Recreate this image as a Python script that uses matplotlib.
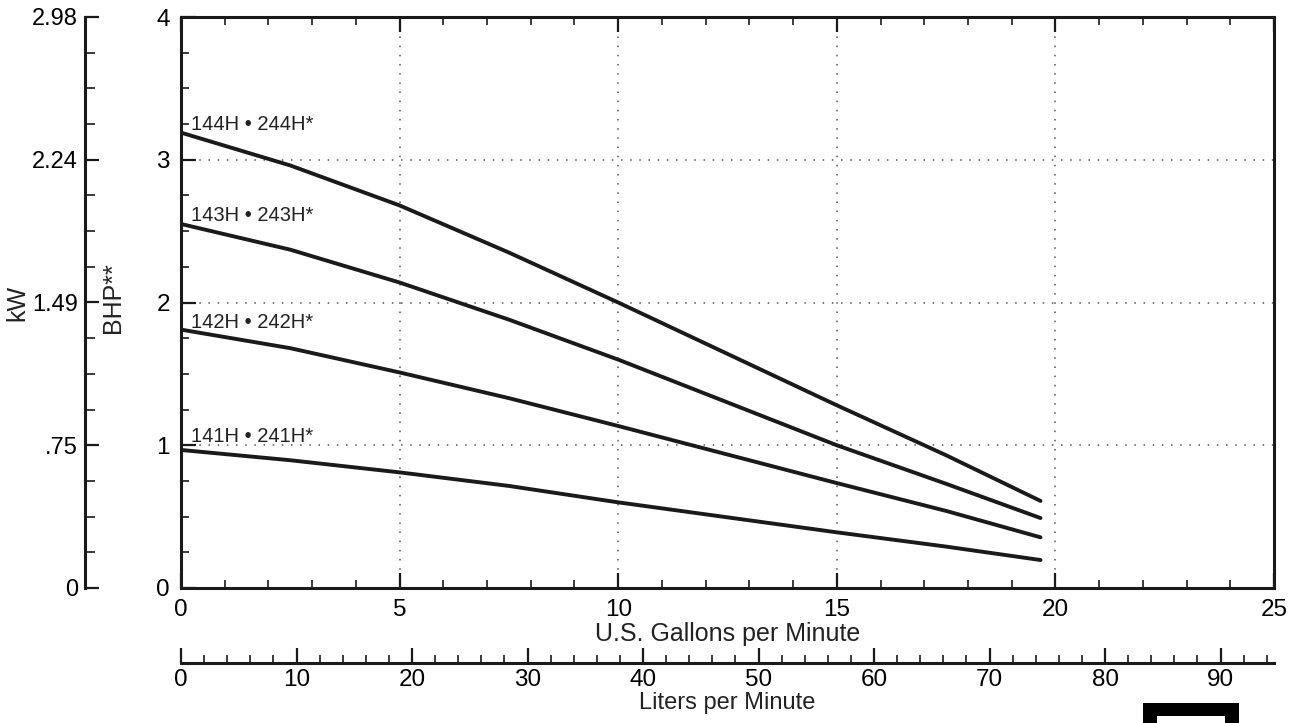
import matplotlib
matplotlib.use('Agg')
import matplotlib.pyplot as plt
from matplotlib.patches import Rectangle
from matplotlib.ticker import MultipleLocator, FixedLocator

plt.rcParams['font.family'] = ['Liberation Sans', 'DejaVu Sans']

# BHP curves (x = US gallons per minute)
gpm = [0, 2.5, 5, 7.5, 10, 12.5, 15, 17.5, 19.66]
bhp_144 = [3.19, 2.96, 2.68, 2.35, 2.00, 1.64, 1.28, 0.93, 0.61]
bhp_143 = [2.55, 2.37, 2.14, 1.88, 1.60, 1.30, 1.00, 0.73, 0.49]
bhp_142 = [1.81, 1.68, 1.51, 1.33, 1.135, 0.935, 0.735, 0.54, 0.355]
bhp_141 = [0.967, 0.895, 0.81, 0.715, 0.60, 0.495, 0.39, 0.29, 0.196]

curve_labels = ['144H \u2022 244H*', '143H \u2022 243H*', '142H \u2022 242H*', '141H \u2022 241H*']
label_y = [3.25, 2.61, 1.86, 1.06]

gpm_ticks = [0, 5, 10, 15, 20, 25]
bhp_ticks = [0, 1, 2, 3, 4]
kw_labels = ['0', '.75', '1.49', '2.24', '2.98']
lpm_ticks = [0, 10, 20, 30, 40, 50, 60, 70, 80, 90]

GAL_TO_L = 3.785

W, H = 1294, 723
fig = plt.figure(figsize=(W / 100, H / 100), dpi=100)

left, right, top, bottom = 181, 1274, 17, 588
ax = fig.add_axes([left / W, 1 - bottom / H, (right - left) / W, (bottom - top) / H])

for b in [bhp_144, bhp_143, bhp_142, bhp_141]:
    ax.plot(gpm, b, color='#1a1a1a', lw=2.8, solid_capstyle='round',
            solid_joinstyle='round', zorder=3)

for txt, yy in zip(curve_labels, label_y):
    ax.text(0.23, yy, txt, fontsize=14.5, va='center', ha='left', color='#222222')

ax.set_xlim(0, 25)
ax.set_ylim(0, 4)
ax.xaxis.set_major_locator(FixedLocator(gpm_ticks))
ax.xaxis.set_minor_locator(MultipleLocator(1))
ax.yaxis.set_major_locator(FixedLocator(bhp_ticks))
ax.yaxis.set_minor_locator(MultipleLocator(0.25))
ax.set_xticklabels([str(t) for t in gpm_ticks])
ax.set_yticklabels([str(t) for t in bhp_ticks])

ax.grid(True, which='major', color='#555555', lw=1.1, linestyle=(0, (1, 5)))
# hide gridlines at the borders
for gl in ax.get_xgridlines()[:1] + ax.get_xgridlines()[-1:] + ax.get_ygridlines()[:1] + ax.get_ygridlines()[-1:]:
    gl.set_visible(False)

for s in ax.spines.values():
    s.set_linewidth(2.2)
    s.set_color('#1a1a1a')
ax.tick_params(which='both', direction='in', top=True, right=True, color='#1a1a1a')
ax.tick_params(which='major', length=11, width=1.6, labelsize=17.5, pad=8)
ax.tick_params(which='minor', length=6, width=1.2)

# kW axis on the far left
axk = ax.twinx()
axk.set_ylim(0, 4)
axk.yaxis.set_ticks_position('left')
axk.spines['left'].set_position(('outward', 69))
for side in ['right', 'top', 'bottom']:
    axk.spines[side].set_visible(False)
axk.spines['left'].set_linewidth(2.2)
axk.spines['left'].set_color('#1a1a1a')
axk.yaxis.set_major_locator(FixedLocator(bhp_ticks))
axk.yaxis.set_minor_locator(MultipleLocator(0.25))
axk.set_yticklabels(kw_labels)
axk.tick_params(which='both', direction='in', color='#1a1a1a')
axk.tick_params(which='major', length=10, width=1.6, labelsize=17, pad=5)
axk.tick_params(which='minor', length=7, width=1.2)

# liters per minute scale
axl = fig.add_axes([left / W, 1 - 663 / H, (right - left) / W, 0.0001])
axl.set_xlim(0, 25 * GAL_TO_L)
axl.set_yticks([])
for side in ['left', 'right', 'top']:
    axl.spines[side].set_visible(False)
axl.spines['bottom'].set_linewidth(2.2)
axl.spines['bottom'].set_color('#1a1a1a')
axl.xaxis.set_major_locator(FixedLocator(lpm_ticks))
axl.xaxis.set_minor_locator(FixedLocator([m for m in range(0, 95, 2) if m % 10]))
axl.set_xticklabels([str(t) for t in lpm_ticks])
axl.tick_params(which='both', direction='in', color='#1a1a1a')
axl.tick_params(which='major', length=11, width=1.6, labelsize=17.5, pad=4)
axl.tick_params(which='minor', length=6, width=1.2)
axl.patch.set_visible(False)

xc = (left + right) / 2 / W
fig.text(xc, 1 - 634 / H, 'U.S. Gallons per Minute', ha='center', va='center', fontsize=18, color='#222222')
fig.text(xc, 1 - 703 / H, 'Liters per Minute', ha='center', va='center', fontsize=17, color='#222222')
fig.text(17 / W, 1 - 303 / H, 'kW', rotation=90, ha='center', va='center', fontsize=18, color='#222222')
fig.text(113 / W, 1 - 298 / H, 'BHP**', rotation=90, ha='center', va='center', fontsize=18, color='#222222')

# black frame cut off at the bottom right
fig.add_artist(Rectangle((1143 / W, 0), 96 / W, 20 / H, transform=fig.transFigure,
                         facecolor='black', edgecolor='none'))
fig.add_artist(Rectangle((1157 / W, 0), 68 / W, 7 / H, transform=fig.transFigure,
                         facecolor='white', edgecolor='none'))

fig.savefig('out.png', dpi=100)
